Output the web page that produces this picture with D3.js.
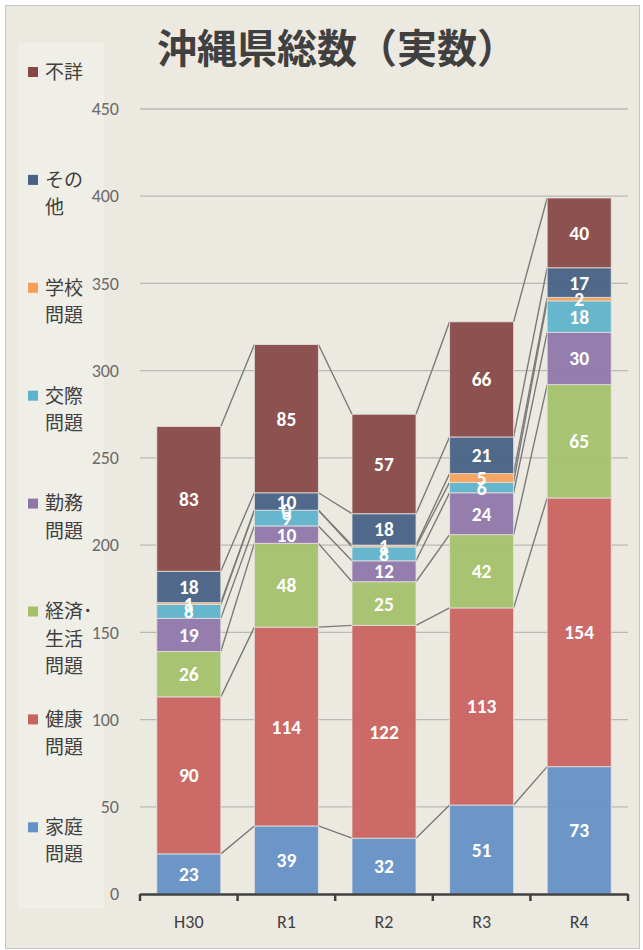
<!DOCTYPE html>
<html>
<head>
<meta charset="utf-8">
<script src="https://cdn.jsdelivr.net/npm/d3@7"></script>
<style>
  body { margin: 0; background: #fff; }
  svg { display: block; }
</style>
</head>
<body>
<div id="chart"></div>
<script>
// data
const categories = ["H30", "R1", "R2", "R3", "R4"];
const seriesNames = ["家庭問題", "健康問題", "経済・生活問題", "勤務問題", "交際問題", "学校問題", "その他", "不詳"];
const katei = [23, 39, 32, 51, 73];
const kenko = [90, 114, 122, 113, 154];
const keizai = [26, 48, 25, 42, 65];
const kinmu = [19, 10, 12, 24, 30];
const kosai = [8, 9, 8, 6, 18];
const gakko = [1, 0, 1, 5, 2];
const sonota = [18, 10, 18, 21, 17];
const fusho = [83, 85, 57, 66, 40];
const yTicks = [0, 50, 100, 150, 200, 250, 300, 350, 400, 450];
// legend text as wrapped in the original
const legendLines = [["家庭", "問題"], ["健康", "問題"], ["経済･", "生活", "問題"], ["勤務", "問題"],
                     ["交際", "問題"], ["学校", "問題"], ["その", "他"], ["不詳"]];
const colors = ["#6591C6", "#C9625F", "#A4C06A", "#8F77AA", "#5DB3CB", "#F79F57", "#466184", "#874745"];

const seriesValues = [katei, kenko, keizai, kinmu, kosai, gakko, sonota, fusho];
const rows = categories.map((c, i) => {
  const row = { cat: c };
  seriesNames.forEach((s, j) => { row[s] = seriesValues[j][i]; });
  return row;
});

const width = 643, height = 950;
const svg = d3.select("#chart").append("svg")
  .attr("width", width)
  .attr("height", height);

// chart area + legend box
svg.append("rect")
  .attr("x", 5.5).attr("y", 5.5)
  .attr("width", 634).attr("height", 943)
  .attr("fill", "#ECEAE0")
  .attr("stroke", "#C4C4C4");
svg.append("rect")
  .attr("x", 18).attr("y", 43)
  .attr("width", 86).attr("height", 865)
  .attr("fill", "#EFEEE7");

// title
svg.append("text")
  .attr("x", 157).attr("y", 63)
  .attr("font-family", "'Noto Sans CJK JP', sans-serif")
  .attr("font-weight", 700)
  .attr("font-size", 40)
  .attr("fill", "#404040")
  .text("沖縄県総数（実数）");

const x = d3.scaleBand()
  .domain(categories)
  .range([140, 628])
  .paddingInner(0.344)
  .paddingOuter(0.172);
const y = d3.scaleLinear().domain([0, 450]).range([894, 109]);

// gridlines
svg.append("g")
  .selectAll("line")
  .data(yTicks.filter(d => d > 0))
  .join("line")
  .attr("x1", 140).attr("x2", 628)
  .attr("y1", d => y(d)).attr("y2", d => y(d))
  .attr("stroke", "#B8B8B8")
  .attr("stroke-width", 1.3);

// y labels
const yAxis = svg.append("g")
  .attr("transform", "translate(140,0)")
  .call(d3.axisLeft(y).tickValues(yTicks).tickSize(0).tickPadding(21));
yAxis.select(".domain").remove();
yAxis.selectAll("text")
  .attr("font-family", "Carlito, Lato, sans-serif")
  .attr("font-size", 18)
  .attr("fill", "#6B6B6B");

const stacked = d3.stack().keys(seriesNames)(rows);

// series lines between bars
const bw = x.bandwidth();
stacked.forEach(layer => {
  const segs = d3.pairs(layer);
  svg.append("g")
    .selectAll("line")
    .data(segs)
    .join("line")
    .attr("x1", d => x(d[0].data.cat) + bw)
    .attr("y1", d => y(d[0][1]))
    .attr("x2", d => x(d[1].data.cat))
    .attr("y2", d => y(d[1][1]))
    .attr("stroke", "#7A7A7A")
    .attr("stroke-width", 1.4);
});

// bars
stacked.forEach((layer, j) => {
  svg.append("g")
    .selectAll("rect")
    .data(layer)
    .join("rect")
    .attr("x", d => x(d.data.cat))
    .attr("y", d => y(d[1]))
    .attr("width", bw)
    .attr("height", d => y(d[0]) - y(d[1]))
    .attr("fill", colors[j])
    .attr("fill-opacity", 0.94)
    .attr("stroke", "#E6E2DE")
    .attr("stroke-opacity", 0.8)
    .attr("stroke-width", 1);
});

// value labels
stacked.forEach(layer => {
  svg.append("g")
    .selectAll("text")
    .data(layer)
    .join("text")
    .attr("x", d => x(d.data.cat) + bw / 2)
    .attr("y", d => y((d[0] + d[1]) / 2))
    .attr("dy", "0.36em")
    .attr("text-anchor", "middle")
    .attr("font-family", "Carlito, Lato, sans-serif")
    .attr("font-weight", 700)
    .attr("font-size", 19.5)
    .attr("fill", "#fff")
    .text(d => d[1] - d[0]);
});

// x axis: baseline with ticks at band edges
const edges = d3.range(categories.length + 1).map(i => x.range()[0] + i * x.step());
svg.append("line")
  .attr("x1", edges[0]).attr("x2", edges[edges.length - 1])
  .attr("y1", y(0) + 0.5).attr("y2", y(0) + 0.5)
  .attr("stroke", "#404040")
  .attr("stroke-width", 2.5);
svg.append("g")
  .selectAll("line")
  .data(edges)
  .join("line")
  .attr("x1", d => d).attr("x2", d => d)
  .attr("y1", y(0)).attr("y2", y(0) + 7)
  .attr("stroke", "#404040")
  .attr("stroke-width", 2.5);
svg.append("g")
  .selectAll("text")
  .data(categories)
  .join("text")
  .attr("x", d => x(d) + bw / 2)
  .attr("y", 922)
  .attr("dy", "0.35em")
  .attr("text-anchor", "middle")
  .attr("font-family", "Carlito, Lato, sans-serif")
  .attr("font-size", 18)
  .attr("fill", "#404040")
  .text(d => d);

// legend, top entry is the last series
const legendStep = 107.9;
const legendOrder = d3.range(seriesNames.length).reverse();
const legend = svg.append("g")
  .selectAll("g")
  .data(legendOrder)
  .join("g")
  .attr("transform", (j, k) => `translate(28,${72 + k * legendStep})`);
legend.append("rect")
  .attr("x", 0).attr("y", -5)
  .attr("width", 10).attr("height", 10)
  .attr("fill", j => colors[j]);
legend.append("text")
  .attr("font-family", "'Noto Sans CJK JP', sans-serif")
  .attr("font-size", 19)
  .attr("fill", "#404040")
  .selectAll("tspan")
  .data(j => legendLines[j])
  .join("tspan")
  .attr("x", 17)
  .attr("y", (d, i) => i * 27.3)
  .attr("dy", "0.36em")
  .text(d => d);
</script>
</body>
</html>
